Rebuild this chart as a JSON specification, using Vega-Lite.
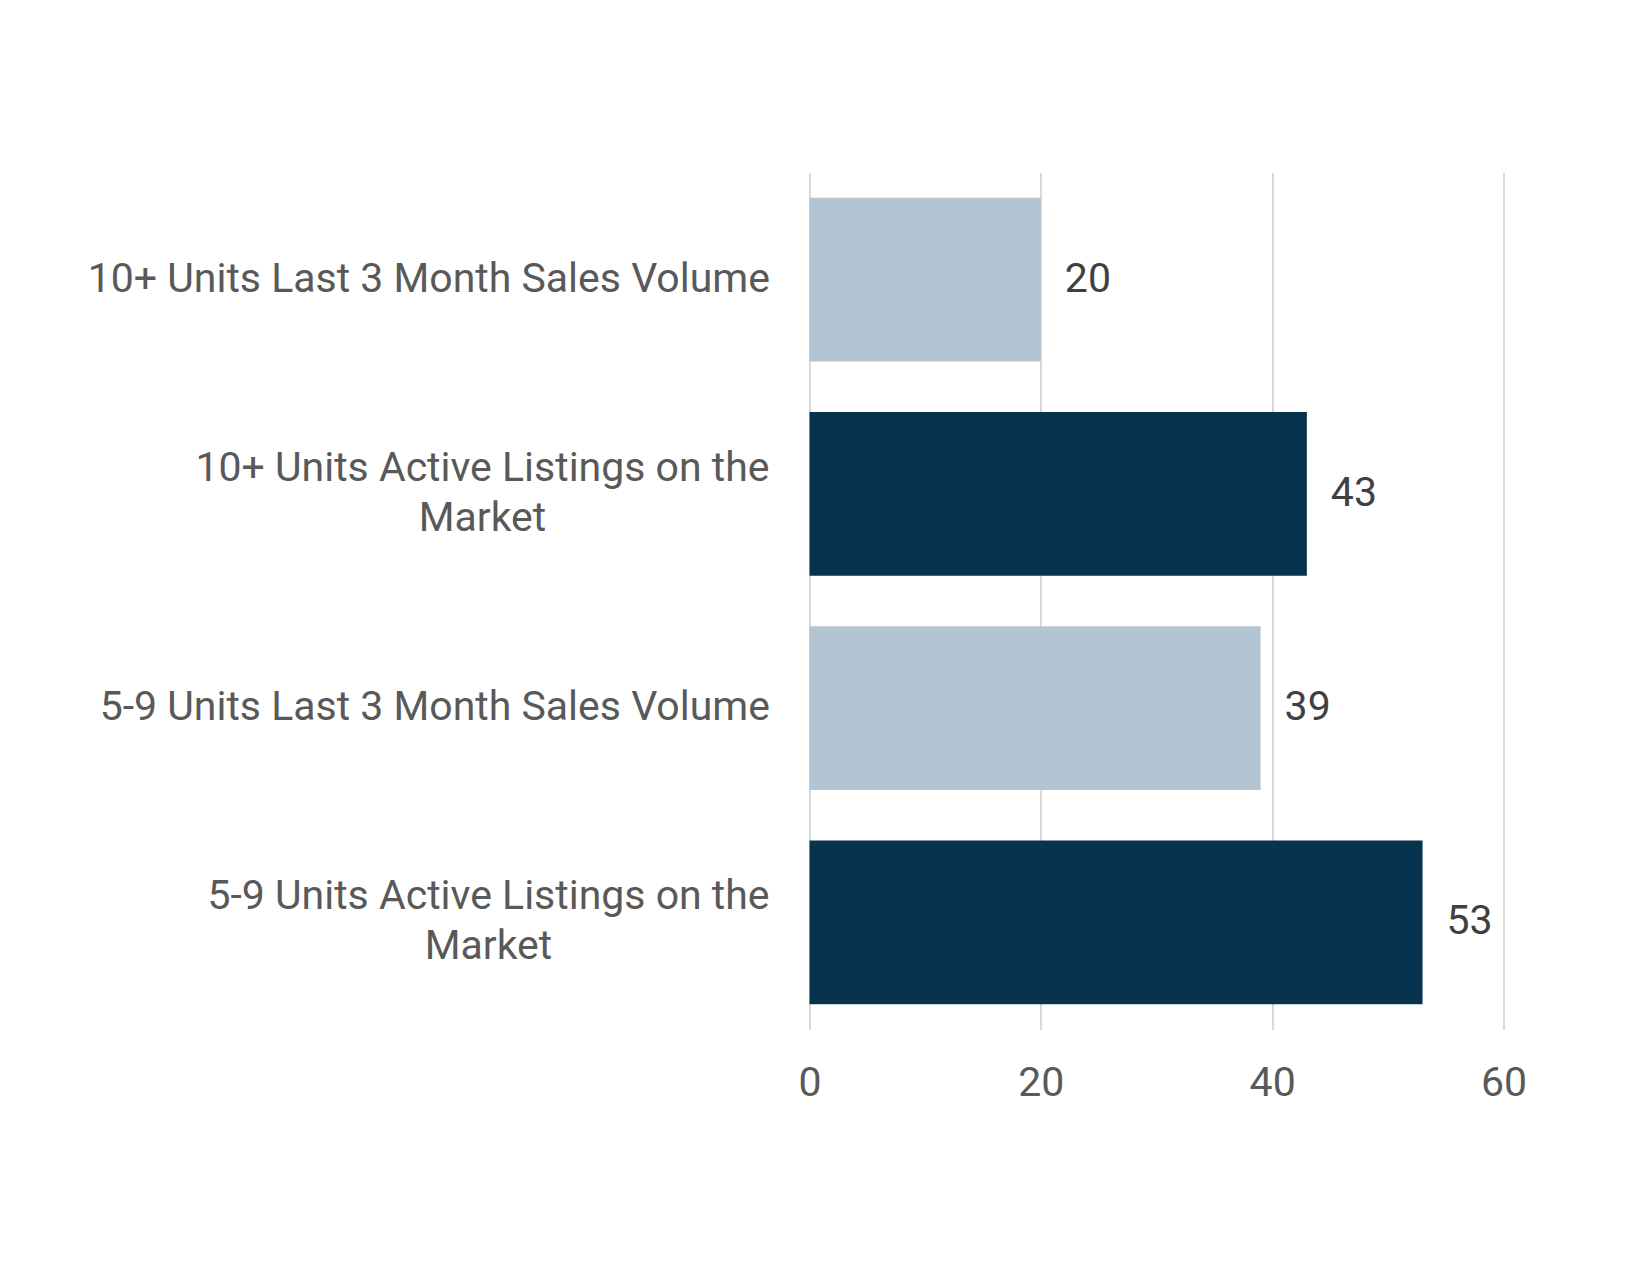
{
  "$schema": "https://vega.github.io/schema/vega-lite/v6.json",
  "autosize": "none",
  "padding": {"left": 809.5, "top": 172.5, "right": 146.5, "bottom": 245.5},
  "width": 694,
  "height": 857,
  "background": "white",
  "config": {"view": {"stroke": null}, "font": "Roboto"},
  "data": {"values": [
    {"category": "10+ Units Last 3 Month Sales Volume", "label": "10+ Units Last 3 Month Sales Volume", "value": 20, "type": "sales"},
    {"category": "10+ Units Active Listings on the Market", "label": "10+ Units Active Listings on the\nMarket", "value": 43, "type": "active"},
    {"category": "5-9 Units Last 3 Month Sales Volume", "label": "5-9 Units Last 3 Month Sales Volume", "value": 39, "type": "sales"},
    {"category": "5-9 Units Active Listings on the Market", "label": "5-9 Units Active Listings on the\nMarket", "value": 53, "type": "active"}
  ]},
  "encoding": {
    "y": {
      "field": "category", "type": "nominal", "sort": null,
      "scale": {"paddingInner": 0.235, "paddingOuter": 0.1175},
      "axis": {
        "title": null, "domain": false, "ticks": false, "grid": false,
        "labelFontSize": 41, "labelColor": "#595959", "labelPadding": 40,
        "labelLimit": 800,
        "labelExpr": "indexof(datum.label,'Market')>=0 ? '' : datum.label"
      }
    },
    "x": {
      "field": "value", "type": "quantitative",
      "scale": {"domain": [0, 60]},
      "axis": {
        "title": null, "domain": false, "ticks": false, "values": [0, 20, 40, 60],
        "grid": true, "gridColor": "#d9d9d9", "gridWidth": 2, "labelFlush": false,
        "labelFontSize": 41, "labelColor": "#595959", "labelPadding": 34
      }
    }
  },
  "layer": [
    {
      "mark": {"type": "bar"},
      "encoding": {
        "color": {
          "field": "type", "type": "nominal",
          "scale": {"domain": ["sales", "active"], "range": ["#b3c5d3", "#08334f"]},
          "legend": null
        }
      }
    },
    {
      "mark": {"type": "text", "align": "left", "baseline": "middle", "dx": 24, "fontSize": 41, "color": "#404040"},
      "encoding": {"text": {"field": "value", "type": "quantitative"}}
    },
    {
      "transform": [{"filter": "indexof(datum.category,'10+ Units Active')>=0"}],
      "mark": {"type": "text", "align": "center", "baseline": "middle", "lineBreak": "\n", "lineHeight": 50, "dx": -327, "dy": -25, "fontSize": 41, "color": "#595959"},
      "encoding": {"x": {"datum": 0}, "text": {"field": "label"}}
    },
    {
      "transform": [{"filter": "indexof(datum.category,'5-9 Units Active')>=0"}],
      "mark": {"type": "text", "align": "center", "baseline": "middle", "lineBreak": "\n", "lineHeight": 50, "dx": -321, "dy": -25, "fontSize": 41, "color": "#595959"},
      "encoding": {"x": {"datum": 0}, "text": {"field": "label"}}
    }
  ]
}
